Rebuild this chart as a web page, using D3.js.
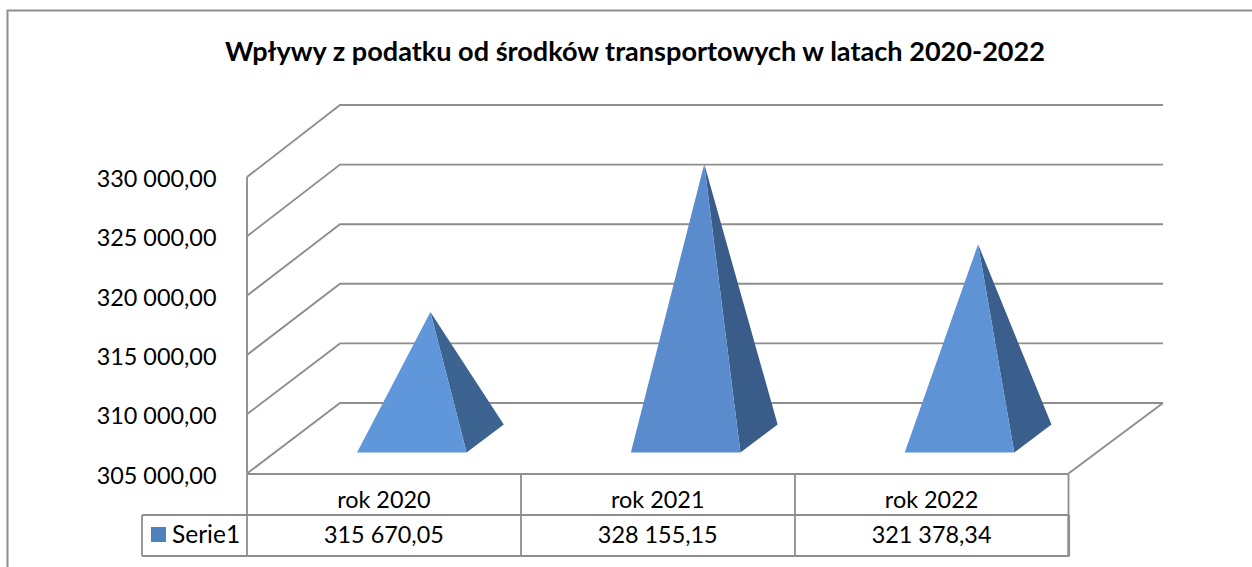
<!DOCTYPE html>
<html><head><meta charset="utf-8">
<script src="https://cdn.jsdelivr.net/npm/d3@7/dist/d3.min.js"></script>
<style>html,body{margin:0;padding:0;background:#fff}svg{display:block}text{font-family:Lato,"Noto Sans",sans-serif;fill:#000}</style>
</head><body><script>
const title = "Wpływy z podatku od środków transportowych w latach 2020-2022";
const categories = ["rok 2020","rok 2021","rok 2022"];
const seriesName = "Serie1";
const values = [315670.05,328155.15,321378.34];
const valueLabels = ["315 670,05","328 155,15","321 378,34"];
const ticks = [305000,310000,315000,320000,325000,330000];
const tickLabels = ["305 000,00","310 000,00","315 000,00","320 000,00","325 000,00","330 000,00"];
const frontColors = ["#5f97da","#5a8ccd","#5e93d5"];
const sideColors = ["#3d6390","#3a5c88","#3b5f8c"];

const W=1252,H=567, dx=93, dy=-70, grid="#8e8e8e";
const svg=d3.select("body").append("svg").attr("width",W).attr("height",H);
const y=d3.scaleLinear().domain([305000,330000]).range([473.5,177]);
const yBack=d3.scaleLinear().domain([305000,330000]).range([403,105]);
const x=d3.scaleBand().domain(categories).range([247,1068.5]);

svg.append("path").attr("d","M7.5,567V10.5H1252").attr("fill","none").attr("stroke",grid).attr("stroke-width",2);
svg.append("text").attr("x",635).attr("y",60.5).attr("text-anchor","middle").attr("font-size",27.1).attr("font-weight",700).text(title);

const line=d3.line();
const g=svg.append("g").attr("fill","none").attr("stroke",grid).attr("stroke-width",1.9);
ticks.forEach(t=>{
  g.append("path").attr("d",line([[247,y(t)],[247+dx,yBack(t)],[1163,yBack(t)]]));
});
g.append("path").attr("d",line([[1163,yBack(305000)],[1068.5,y(305000)]]));
g.append("path").attr("d",line([[247,y(330000)],[247,y(305000)]]));

// pyramids: the base sits on the floor, the apex height comes from the value scale
const floor=y(305000), bw=x.bandwidth()*0.4;
categories.forEach((c,i)=>{
  const cx=x(c)+x.bandwidth()/2;
  const fl=cx-bw/2+dx*0.3, fr=fl+bw, fy=floor+dy*0.3;
  const bx=fr+dx*0.4, by=fy+dy*0.4;
  const ax=(fl+bx)/2, ay=(fy+by)/2-(floor-y(values[i]));
  svg.append("path").attr("d",line([[fr,fy],[bx,by],[ax,ay]])+"Z").attr("fill",sideColors[i]);
  svg.append("path").attr("d",line([[fl,fy],[fr,fy],[ax,ay]])+"Z").attr("fill",frontColors[i]);
});

// data table
const t=svg.append("g").attr("fill","none").attr("stroke",grid);
const r0=floor+0.5, r1=515, r2=556;
t.append("path").attr("d",line([[247,r0],[1068.5,r0]])).attr("stroke-width",2);
t.append("path").attr("d",line([[142,r1],[1068.5,r1]])).attr("stroke-width",1.8);
t.append("path").attr("d",line([[142,r2],[1069.5,r2]])).attr("stroke-width",2.2);
t.append("path").attr("d",line([[142,r1],[142,r2]])).attr("stroke-width",1.8);
[247,521,795,1068.5].forEach(v=>t.append("path").attr("d",line([[v,r0],[v,r2]])).attr("stroke-width",1.8));
t.append("path").attr("d",line([[1068.8,r1],[1068.8,r2]])).attr("stroke-width",2.6);

svg.append("rect").attr("x",151).attr("y",527).attr("width",15).attr("height",15).attr("fill","#4f81bd");
svg.append("text").attr("x",172).attr("y",543).attr("font-size",24.5).text(seriesName);
categories.forEach((c,i)=>{
  const cx=x(c)+x.bandwidth()/2;
  svg.append("text").attr("x",cx).attr("y",508).attr("text-anchor","middle").attr("font-size",23.4).text(c);
  svg.append("text").attr("x",cx).attr("y",543).attr("text-anchor","middle").attr("font-size",23.4).text(valueLabels[i]);
});

// value axis labels
const axis=d3.axisLeft(y).tickValues(ticks).tickSize(0).tickPadding(0).tickFormat((d,i)=>tickLabels[i]);
const ag=svg.append("g").attr("transform","translate(216.5,2)").call(axis);
ag.select(".domain").remove();
ag.selectAll("text").attr("font-size",23.4).style("font-family","Lato");
</script></body></html>
